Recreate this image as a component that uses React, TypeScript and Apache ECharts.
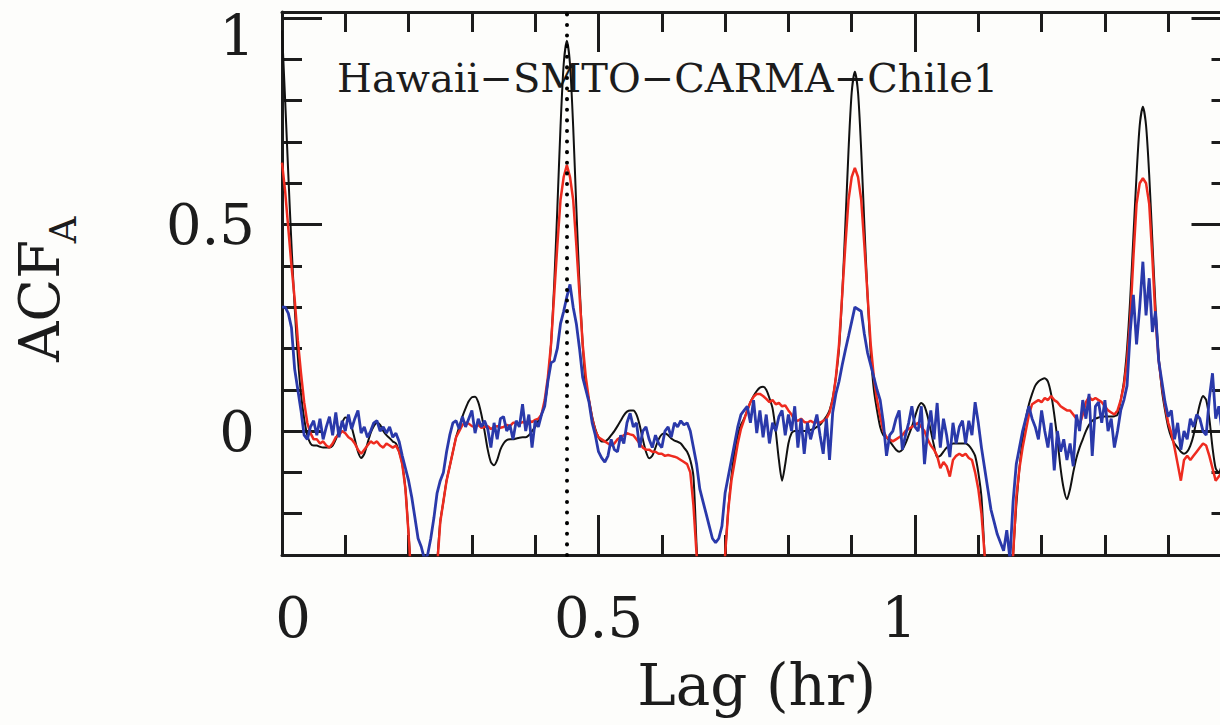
import React, { useEffect, useRef } from "react";
import * as echarts from "echarts";

// ---------------- data ----------------
const LAG_STEP_HR = 0.005; // sampling of the lag axis (hr)
const LAG_MIN = 0;
const LAG_MAX = 1.5;
const ACF_MIN = -0.3;
const ACF_MAX = 1.0145;
const X_LABEL_VALUES = [0, 0.5, 1];
const Y_LABEL_VALUES = [0, 0.5, 1];
const MARKER_LAG = 0.45;
const PANEL_TITLE = "Hawaii\u2212SMTO\u2212CARMA\u2212Chile1";
const X_NAME = "Lag (hr)";
const Y_NAME_MAIN = "ACF";
const Y_NAME_SUB = "A";

// black: model ACF
const acfModel = [
  0.97, 0.80, 0.62, 0.45, 0.30, 0.18, 0.09, 0.03, -0.01, -0.03,
  -0.035, -0.035, -0.038, -0.04, -0.04, -0.04, -0.035, -0.02, 0.0, 0.02,
  0.033, 0.03, 0.01, -0.02, -0.05, -0.065, -0.055, -0.03, -0.005, 0.012,
  0.02, 0.015, 0.0, -0.01, -0.017, -0.025, -0.03, -0.05, -0.08, -0.14,
  -0.25, -0.36, -0.46, -0.53, -0.56, -0.57, -0.55, -0.5, -0.42, -0.32,
  -0.22, -0.17, -0.12, -0.085, -0.05, -0.015, 0.01, 0.035, 0.055, 0.072,
  0.082, 0.083, 0.07, 0.04, 0.0, -0.045, -0.075, -0.083, -0.07, -0.045,
  -0.03, -0.022, -0.02, -0.02, -0.018, -0.016, -0.015, -0.015, -0.01, 0.0,
  0.01, 0.025, 0.04, 0.065, 0.12, 0.21, 0.355, 0.54, 0.737, 0.888,
  0.945, 0.888, 0.737, 0.54, 0.355, 0.21, 0.11, 0.075, 0.035, 0.005,
  -0.015, -0.025, -0.025, -0.02, -0.01, 0.0, 0.012, 0.025, 0.038, 0.047,
  0.05, 0.05, 0.04, 0.015, -0.02, -0.05, -0.066, -0.06, -0.04, -0.02,
  -0.008, -0.005, -0.01, -0.018, -0.023, -0.026, -0.03, -0.04, -0.05, -0.07,
  -0.11, -0.28, -0.42, -0.52, -0.58, -0.6, -0.6, -0.58, -0.52, -0.42,
  -0.3, -0.19, -0.11, -0.05, -0.01, 0.015, 0.03, 0.05, 0.07, 0.085,
  0.097, 0.105, 0.107, 0.1, 0.08, 0.055, 0.0, -0.07, -0.12, -0.08,
  -0.03, -0.005, 0.0, 0.0, 0.0, 0.0, 0.0, 0.003, 0.005, 0.01,
  0.015, 0.025, 0.035, 0.05, 0.08, 0.13, 0.2, 0.33, 0.5, 0.68,
  0.82, 0.87, 0.82, 0.68, 0.5, 0.33, 0.19, 0.1, 0.05, 0.01,
  -0.01, -0.015, -0.025, -0.035, -0.045, -0.05, -0.045, -0.03, -0.01, 0.01,
  0.035, 0.058, 0.068, 0.06, 0.035, 0.0, -0.035, -0.063, -0.06, -0.05,
  -0.04, -0.035, -0.03, -0.03, -0.03, -0.03, -0.03, -0.035, -0.045, -0.06,
  -0.1, -0.16, -0.3, -0.42, -0.52, -0.58, -0.6, -0.6, -0.58, -0.52,
  -0.42, -0.3, -0.18, -0.09, -0.02, 0.03, 0.065, 0.09, 0.11, 0.12,
  0.125, 0.128, 0.12, 0.09, 0.04, -0.02, -0.09, -0.14, -0.165, -0.14,
  -0.1, -0.065, -0.04, -0.02, 0.0, 0.015, 0.025, 0.03, 0.033, 0.035,
  0.035, 0.035, 0.035, 0.036, 0.04, 0.075, 0.12, 0.2, 0.32, 0.47,
  0.62, 0.74, 0.785, 0.74, 0.62, 0.46, 0.3, 0.18, 0.1, 0.05,
  0.01, -0.015, -0.03, -0.04, -0.05, -0.055, -0.05, -0.035, -0.01, 0.03,
  0.065, 0.085, 0.075, 0.03, -0.04, -0.09, -0.1, -0.08, -0.05, -0.03,
  -0.02,
];

// red
const acfRed = [
  0.65, 0.58, 0.49, 0.40, 0.32, 0.22, 0.14, 0.07, 0.02, -0.005,
  -0.02, -0.02, -0.03, -0.025, -0.035, -0.04, -0.03, -0.015, -0.01, 0.0,
  -0.005, -0.015, -0.02, -0.03, -0.045, -0.055, -0.045, -0.035, -0.025, -0.03,
  -0.025, -0.035, -0.04, -0.03, -0.035, -0.04, -0.035, -0.05, -0.08, -0.14,
  -0.25, -0.38, -0.5, -0.6, -0.65, -0.66, -0.63, -0.55, -0.44, -0.33,
  -0.22, -0.17, -0.12, -0.085, -0.05, -0.015, 0.0, 0.015, 0.02, 0.018,
  0.012, 0.01, 0.015, 0.008, 0.01, 0.012, 0.005, 0.01, 0.012, 0.008,
  0.01, 0.015, 0.012, 0.02, 0.02, 0.018, 0.022, 0.02, 0.025, 0.022,
  0.027, 0.03, 0.04, 0.075, 0.13, 0.21, 0.33, 0.45, 0.56, 0.615,
  0.644, 0.615, 0.56, 0.45, 0.33, 0.21, 0.13, 0.075, 0.03, 0.0,
  -0.015, -0.02, -0.025, -0.03, -0.035, -0.03, -0.02, -0.015, -0.01, -0.005,
  -0.008, -0.01, -0.02, -0.03, -0.04, -0.045, -0.045, -0.05, -0.05, -0.055,
  -0.055, -0.06, -0.058, -0.06, -0.062, -0.065, -0.07, -0.075, -0.08, -0.1,
  -0.18, -0.3, -0.45, -0.56, -0.63, -0.66, -0.66, -0.63, -0.56, -0.45,
  -0.3, -0.19, -0.12, -0.075, -0.03, 0.005, 0.027, 0.05, 0.07, 0.083,
  0.09, 0.09, 0.085, 0.078, 0.07, 0.075, 0.065, 0.068, 0.06, 0.062,
  0.05, 0.04, 0.027, 0.025, 0.03, 0.022, 0.02, 0.025, 0.02, 0.022,
  0.02, 0.025, 0.03, 0.045, 0.075, 0.13, 0.21, 0.33, 0.45, 0.56,
  0.615, 0.637, 0.615, 0.56, 0.45, 0.33, 0.21, 0.13, 0.075, 0.035,
  0.0, -0.015, -0.02, -0.025, -0.02, -0.015, -0.01, 0.0, 0.005, 0.01,
  0.015, 0.02, 0.01, 0.0, -0.02, -0.035, -0.045, -0.06, -0.09, -0.075,
  -0.085, -0.11, -0.07, -0.06, -0.055, -0.06, -0.055, -0.065, -0.07, -0.1,
  -0.14, -0.2, -0.3, -0.45, -0.57, -0.64, -0.66, -0.66, -0.62, -0.55,
  -0.43, -0.3, -0.16, -0.09, -0.04, 0.0, 0.04, 0.065, 0.07, 0.075,
  0.07, 0.08, 0.075, 0.085, 0.075, 0.07, 0.06, 0.055, 0.05, 0.05,
  0.04, 0.03, 0.015, 0.04, 0.07, 0.083, 0.075, 0.08, 0.075, 0.07,
  0.06, 0.05, 0.045, 0.04, 0.05, 0.075, 0.11, 0.17, 0.27, 0.42,
  0.55, 0.6, 0.612, 0.6, 0.55, 0.42, 0.27, 0.17, 0.11, 0.06,
  0.02, -0.005, -0.04, -0.08, -0.12, -0.07, -0.06, -0.07, -0.06, -0.05,
  -0.04, -0.03, -0.035, -0.06, -0.09, -0.12, -0.11, -0.1, -0.08, -0.06,
  -0.05,
];

// blue
const acfBlue = [
  0.30, 0.30, 0.285, 0.25, 0.15, 0.10, 0.05, -0.01, -0.02, 0.01,
  0.025, -0.01, 0.03, -0.02, 0.01, 0.035, -0.01, 0.045, -0.015, 0.025,
  0.0, 0.04, 0.005, 0.03, 0.05, -0.005, 0.01, -0.015, 0.0, 0.02,
  0.025, 0.0, 0.01, -0.005, 0.01, -0.015, -0.005, -0.025, -0.06, -0.09,
  -0.12, -0.16, -0.21, -0.26, -0.28, -0.31, -0.3, -0.26, -0.21, -0.15,
  -0.12, -0.1, -0.05, -0.01, 0.02, 0.025, 0.005, 0.035, 0.01, 0.03,
  0.05, -0.005, 0.03, 0.01, 0.025, 0.005, -0.04, 0.02, -0.02, 0.03,
  0.035, 0.0, 0.015, -0.02, 0.025, 0.01, 0.065, 0.0, 0.04, -0.04,
  0.025, 0.01, 0.04, 0.06, 0.12, 0.165, 0.17, 0.2, 0.26, 0.29,
  0.325, 0.355, 0.3, 0.26, 0.2, 0.13, 0.1, 0.07, 0.02, -0.01,
  -0.05, -0.065, -0.075, -0.06, -0.02, -0.045, -0.05, -0.01, -0.03, 0.02,
  0.043, 0.01, 0.02, -0.04, 0.0, 0.01, -0.02, -0.04, -0.01, -0.03,
  -0.04, 0.0, 0.01, -0.015, 0.02, 0.01, 0.025, 0.015, 0.02, 0.0,
  -0.04, -0.08, -0.14, -0.17, -0.2, -0.23, -0.26, -0.27, -0.26, -0.23,
  -0.15, -0.11, -0.07, -0.03, 0.01, 0.04, 0.05, 0.06, 0.02, 0.075,
  -0.005, 0.05, -0.015, 0.04, -0.03, 0.02, 0.0, 0.035, 0.05, -0.01,
  0.04, 0.0, 0.06, -0.04, 0.03, -0.055, 0.02, -0.02, 0.01, 0.04,
  -0.01, -0.055, 0.03, -0.07, 0.045, 0.09, 0.12, 0.16, 0.196, 0.23,
  0.265, 0.3, 0.295, 0.29, 0.235, 0.19, 0.16, 0.13, 0.1, 0.075,
  0.02, -0.06, -0.01, 0.0, 0.03, 0.05, -0.045, -0.01, 0.02, 0.06,
  0.01, 0.0, 0.06, -0.08, 0.0, 0.05, -0.02, 0.068, -0.04, 0.03,
  -0.01, -0.063, 0.02, -0.03, 0.01, 0.025, -0.03, 0.025, -0.01, 0.07,
  0.02, -0.04, -0.09, -0.14, -0.19, -0.22, -0.25, -0.27, -0.29, -0.24,
  -0.31, -0.17, -0.08, -0.04, 0.0, 0.03, 0.06, 0.03, 0.01, -0.02,
  0.05, 0.0, -0.04, 0.02, -0.095, 0.0, -0.05, -0.02, -0.07, -0.03,
  -0.085, 0.04, 0.0, 0.075, 0.03, 0.09, -0.06, 0.06, 0.07, 0.02,
  0.075, 0.0, 0.03, -0.04, 0.0, 0.05, 0.075, 0.11, 0.24, 0.33,
  0.21, 0.3, 0.41, 0.28, 0.37, 0.24, 0.29, 0.17, 0.12, 0.07,
  0.035, 0.05, -0.02, 0.02, -0.045, 0.0, -0.02, 0.03, 0.01, 0.04,
  0.03, 0.0, -0.01, 0.08, 0.14, 0.03, 0.06, 0.0, 0.03, 0.0,
  0.02,
];

// ---------------- style ----------------
const FONT = '"DejaVu Serif", "Liberation Serif", serif';
const INK = "#1c1c1c";
const RED = "#ee2b1f";
const BLUE = "#2a39aa";
const BG = "#fdfdfb";

const toPairs = (vals: number[]) =>
  vals.map((v, i) => [Math.round(i * LAG_STEP_HR * 1000) / 1000, v]);

const near = (a: number, b: number) => Math.abs(a - b) < 1e-6;

export default function App() {
  const ref = useRef<HTMLDivElement>(null);

  useEffect(() => {
    document.documentElement.style.overflow = "hidden";
    document.body.style.overflow = "hidden";
    document.body.style.margin = "0";
    if (!ref.current) return;
    const chart = echarts.init(ref.current, undefined, { renderer: "svg" });

    const axisLineStyle = { color: INK, width: 3 };
    const tickStyle = { color: INK, width: 3 };
    const labelFont = { fontSize: 56, fontFamily: FONT, color: INK };

    const xAxisDef = (position: "bottom" | "top", withLabels: boolean) => ({
      type: "value",
      position,
      min: LAG_MIN,
      max: LAG_MAX,
      interval: 0.5,
      axisLine: { show: true, onZero: false, lineStyle: axisLineStyle },
      axisTick: { show: true, inside: true, length: 40, lineStyle: tickStyle },
      minorTick: { show: true, splitNumber: 5, length: 20, lineStyle: tickStyle },
      splitLine: { show: false },
      minorSplitLine: { show: false },
      axisLabel: withLabels
        ? {
            show: true,
            margin: 34,
            ...labelFont,
            formatter: (v: number) => {
              if (!X_LABEL_VALUES.some((t) => near(t, v))) return "";
              if (near(v, 0)) return "{l|0}";
              if (near(v, 1)) return "{r|1}";
              return "{m|" + String(v) + "}";
            },
            rich: {
              l: { ...labelFont, padding: [0, 0, 0, 22] },
              m: { ...labelFont },
              r: { ...labelFont, padding: [0, 32, 0, 0] },
            },
          }
        : { show: false },
      name: withLabels ? X_NAME : "",
      nameLocation: "middle",
      nameGap: 101,
      nameTextStyle: { fontSize: 58, fontFamily: FONT, color: INK },
    });

    const yMinorDef = (position: "left" | "right") => ({
      type: "value",
      position,
      min: ACF_MIN,
      max: ACF_MAX,
      interval: 0.1,
      axisLine: { show: true, onZero: false, lineStyle: axisLineStyle },
      axisTick: { show: true, inside: true, length: 20, lineStyle: tickStyle },
      axisLabel: { show: false },
      splitLine: { show: false },
    });

    const yMajorDef = (position: "left" | "right", withLabels: boolean) => ({
      type: "value",
      position,
      min: ACF_MIN,
      max: ACF_MAX,
      interval: 0.1,
      axisLine: { show: false, onZero: false },
      axisTick: {
        show: true,
        inside: true,
        length: 40,
        customValues: Y_LABEL_VALUES,
        lineStyle: tickStyle,
      },
      axisLabel: withLabels
        ? {
            show: true,
            customValues: Y_LABEL_VALUES,
            margin: 27,
            ...labelFont,
            formatter: (v: number) => (near(v, 1) ? "{t|1}" : "{n|" + String(v) + "}"),
            rich: {
              t: { ...labelFont, padding: [36, 0, 0, 0] },
              n: { ...labelFont },
            },
          }
        : { show: false },
      splitLine: { show: false },
    });

    chart.setOption({
      animation: false,
      backgroundColor: BG,
      grid: {
        left: 282,
        right: 8.5,
        top: 12,
        bottom: 170,
        containLabel: false,
        outerBoundsMode: "none",
      },
      xAxis: [xAxisDef("bottom", true), xAxisDef("top", false)],
      yAxis: [
        yMinorDef("left"),
        yMajorDef("left", true),
        yMinorDef("right"),
        yMajorDef("right", false),
      ],
      graphic: [
        {
          type: "text",
          x: 337,
          y: 78,
          silent: true,
          style: {
            text: PANEL_TITLE,
            font: `40px ${FONT}`,
            fill: INK,
            textAlign: "left",
            textVerticalAlign: "middle",
          },
        },
        {
          type: "text",
          x: 39,
          y: 301,
          rotation: Math.PI / 2,
          silent: true,
          style: {
            text: Y_NAME_MAIN,
            font: `56px ${FONT}`,
            fill: INK,
            textAlign: "center",
            textVerticalAlign: "middle",
          },
        },
        {
          type: "text",
          x: 63,
          y: 230,
          rotation: Math.PI / 2,
          silent: true,
          style: {
            text: Y_NAME_SUB,
            font: `37px ${FONT}`,
            fill: INK,
            textAlign: "center",
            textVerticalAlign: "middle",
          },
        },
      ],
      series: [
        {
          type: "line",
          name: "model",
          xAxisIndex: 0,
          yAxisIndex: 0,
          data: toPairs(acfModel),
          showSymbol: false,
          symbol: "none",
          smooth: 0.25,
          clip: true,
          z: 2,
          lineStyle: { color: "#111111", width: 2 },
          emphasis: { disabled: true },
          markLine: {
            silent: true,
            symbol: ["none", "none"],
            label: { show: false },
            lineStyle: { color: "#000000", width: 4, type: [0.1, 10.5], cap: "round" },
            emphasis: { disabled: true },
            data: [{ xAxis: MARKER_LAG }],
          },
        },
        {
          type: "line",
          name: "red",
          xAxisIndex: 0,
          yAxisIndex: 0,
          data: toPairs(acfRed),
          showSymbol: false,
          symbol: "none",
          clip: true,
          z: 3,
          lineStyle: { color: RED, width: 2.5 },
          emphasis: { disabled: true },
        },
        {
          type: "line",
          name: "blue",
          xAxisIndex: 0,
          yAxisIndex: 0,
          data: toPairs(acfBlue),
          showSymbol: false,
          symbol: "none",
          clip: true,
          z: 4,
          lineStyle: { color: BLUE, width: 2.8 },
          emphasis: { disabled: true },
        },
      ],
    });

    return () => chart.dispose();
  }, []);

  return (
    <div
      ref={ref}
      style={{ position: "fixed", left: 0, top: 0, width: 1240, height: 725 }}
    />
  );
}
